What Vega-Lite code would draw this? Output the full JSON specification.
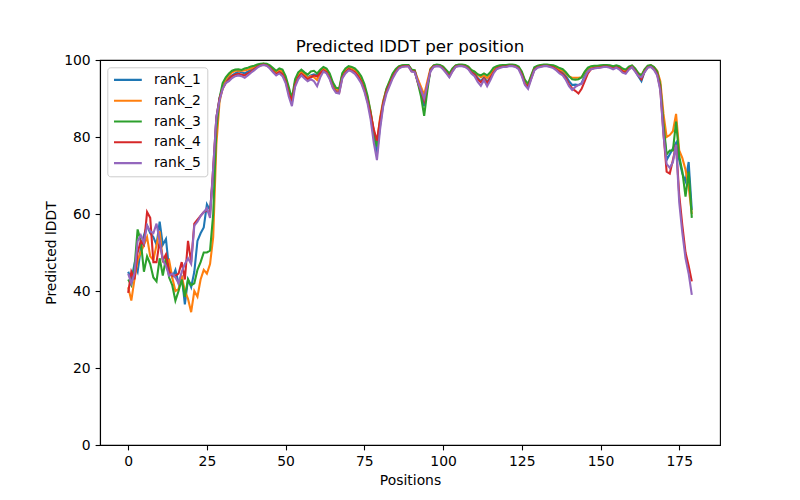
{
"$schema": "https://vega.github.io/schema/vega-lite/v6.json",
"width": 620, "height": 385,
"autosize": {"type": "none"},
"padding": {"left": 100, "top": 60, "right": 80, "bottom": 55},
"background": "white",
"title": {"text": "Predicted lDDT per position", "font": "DejaVu Sans", "fontSize": 16.7, "fontWeight": "normal", "color": "black", "offset": -3},
"config": {
  "view": {"stroke": "black", "strokeWidth": 1.1},
  "axis": {"labelFont": "DejaVu Sans", "labelFontSize": 13.9, "labelColor": "black", "tickColor": "black", "tickSize": 4.9, "tickWidth": 1.1, "domainColor": "black", "domainWidth": 1.1, "titleFont": "DejaVu Sans", "titleFontSize": 13.9, "titleFontWeight": "normal", "titleColor": "black", "grid": false, "labelPadding": 4.9, "titlePadding": 5},
  "legend": {"labelFont": "DejaVu Sans", "labelFontSize": 13.9, "labelColor": "black"}
},
"data": {"values": [
{"pos":0,"rank_1":45,"rank_2":41,"rank_3":43,"rank_4":39.5,"rank_5":44.5},
{"pos":1,"rank_1":43,"rank_2":37.5,"rank_3":41.5,"rank_4":45,"rank_5":42},
{"pos":2,"rank_1":47,"rank_2":43,"rank_3":46,"rank_4":43,"rank_5":44.5},
{"pos":3,"rank_1":45,"rank_2":48,"rank_3":56,"rank_4":50,"rank_5":53},
{"pos":4,"rank_1":51,"rank_2":50,"rank_3":53,"rank_4":53,"rank_5":54.5},
{"pos":5,"rank_1":54.5,"rank_2":52,"rank_3":45,"rank_4":52,"rank_5":52.5},
{"pos":6,"rank_1":57,"rank_2":54,"rank_3":49,"rank_4":60.5,"rank_5":57},
{"pos":7,"rank_1":55,"rank_2":49,"rank_3":47,"rank_4":59,"rank_5":55.5},
{"pos":8,"rank_1":54,"rank_2":48,"rank_3":43.5,"rank_4":47.5,"rank_5":55},
{"pos":9,"rank_1":52,"rank_2":52,"rank_3":42.5,"rank_4":47.5,"rank_5":57.5},
{"pos":10,"rank_1":58,"rank_2":55.5,"rank_3":48.5,"rank_4":53,"rank_5":53},
{"pos":11,"rank_1":52,"rank_2":48,"rank_3":44,"rank_4":48,"rank_5":48},
{"pos":12,"rank_1":53.5,"rank_2":47,"rank_3":48.5,"rank_4":49.5,"rank_5":46.5},
{"pos":13,"rank_1":45.5,"rank_2":48,"rank_3":43.5,"rank_4":45,"rank_5":44},
{"pos":14,"rank_1":43.5,"rank_2":43.5,"rank_3":41.5,"rank_4":44,"rank_5":44.5},
{"pos":15,"rank_1":45.5,"rank_2":40,"rank_3":37.5,"rank_4":44,"rank_5":43.5},
{"pos":16,"rank_1":42,"rank_2":40.5,"rank_3":40,"rank_4":44.5,"rank_5":42},
{"pos":17,"rank_1":44,"rank_2":44,"rank_3":43,"rank_4":47.5,"rank_5":45},
{"pos":18,"rank_1":36.5,"rank_2":40,"rank_3":38.5,"rank_4":43,"rank_5":47},
{"pos":19,"rank_1":43,"rank_2":38,"rank_3":43,"rank_4":53,"rank_5":48.5},
{"pos":20,"rank_1":41,"rank_2":34.5,"rank_3":41.5,"rank_4":47.5,"rank_5":47},
{"pos":21,"rank_1":45,"rank_2":40,"rank_3":42,"rank_4":57.5,"rank_5":57},
{"pos":22,"rank_1":53,"rank_2":38.5,"rank_3":45.5,"rank_4":58.5,"rank_5":58},
{"pos":23,"rank_1":55,"rank_2":43,"rank_3":47.5,"rank_4":59.5,"rank_5":59.5},
{"pos":24,"rank_1":56.5,"rank_2":45.5,"rank_3":50,"rank_4":60.5,"rank_5":60.5},
{"pos":25,"rank_1":62.5,"rank_2":44.5,"rank_3":50,"rank_4":61,"rank_5":61.5},
{"pos":26,"rank_1":61,"rank_2":47,"rank_3":50.5,"rank_4":60,"rank_5":59},
{"pos":27,"rank_1":70,"rank_2":54,"rank_3":60,"rank_4":72,"rank_5":72},
{"pos":28,"rank_1":85,"rank_2":78,"rank_3":82,"rank_4":85,"rank_5":85},
{"pos":29,"rank_1":90,"rank_2":89,"rank_3":90,"rank_4":90,"rank_5":89.5},
{"pos":30,"rank_1":93,"rank_2":93,"rank_3":94,"rank_4":92.5,"rank_5":92.5},
{"pos":31,"rank_1":94.5,"rank_2":95,"rank_3":95.5,"rank_4":94,"rank_5":94},
{"pos":32,"rank_1":95.5,"rank_2":96,"rank_3":96.5,"rank_4":95,"rank_5":94.5},
{"pos":33,"rank_1":96,"rank_2":96.8,"rank_3":97.2,"rank_4":95.8,"rank_5":95.3},
{"pos":34,"rank_1":96.5,"rank_2":97.2,"rank_3":97.5,"rank_4":96.2,"rank_5":95.8},
{"pos":35,"rank_1":97,"rank_2":97.3,"rank_3":97.6,"rank_4":96.4,"rank_5":96},
{"pos":36,"rank_1":96.8,"rank_2":97.2,"rank_3":97.4,"rank_4":96.2,"rank_5":95.8},
{"pos":37,"rank_1":96.5,"rank_2":97.3,"rank_3":97.8,"rank_4":96,"rank_5":95.4},
{"pos":38,"rank_1":97,"rank_2":97.5,"rank_3":98,"rank_4":96.5,"rank_5":96},
{"pos":39,"rank_1":97.5,"rank_2":97.8,"rank_3":98.3,"rank_4":97,"rank_5":96.7},
{"pos":40,"rank_1":98,"rank_2":98.2,"rank_3":98.5,"rank_4":97.6,"rank_5":97.3},
{"pos":41,"rank_1":98.5,"rank_2":98.6,"rank_3":98.8,"rank_4":98.2,"rank_5":98},
{"pos":42,"rank_1":98.8,"rank_2":98.9,"rank_3":99,"rank_4":98.6,"rank_5":98.5},
{"pos":43,"rank_1":99,"rank_2":99,"rank_3":99.1,"rank_4":98.8,"rank_5":98.7},
{"pos":44,"rank_1":98.8,"rank_2":98.8,"rank_3":99,"rank_4":98.6,"rank_5":98.5},
{"pos":45,"rank_1":98.3,"rank_2":98.4,"rank_3":98.6,"rank_4":98,"rank_5":97.8},
{"pos":46,"rank_1":97.5,"rank_2":97.6,"rank_3":97.9,"rank_4":97.1,"rank_5":96.8},
{"pos":47,"rank_1":96.7,"rank_2":96.8,"rank_3":97.2,"rank_4":96.3,"rank_5":96},
{"pos":48,"rank_1":97.2,"rank_2":97.4,"rank_3":97.8,"rank_4":96.8,"rank_5":96.5},
{"pos":49,"rank_1":96.8,"rank_2":97,"rank_3":97.5,"rank_4":96.3,"rank_5":95.8},
{"pos":50,"rank_1":95,"rank_2":95.3,"rank_3":95.8,"rank_4":94.5,"rank_5":94},
{"pos":51,"rank_1":92,"rank_2":92.3,"rank_3":93,"rank_4":91.3,"rank_5":90.5},
{"pos":52,"rank_1":89,"rank_2":89.5,"rank_3":90,"rank_4":89.5,"rank_5":88},
{"pos":53,"rank_1":94,"rank_2":94.2,"rank_3":95,"rank_4":93.5,"rank_5":93},
{"pos":54,"rank_1":96,"rank_2":96.3,"rank_3":96.8,"rank_4":95.5,"rank_5":95},
{"pos":55,"rank_1":97,"rank_2":97,"rank_3":97.5,"rank_4":96.4,"rank_5":96},
{"pos":56,"rank_1":96.3,"rank_2":96.2,"rank_3":96.8,"rank_4":95.7,"rank_5":95.2},
{"pos":57,"rank_1":95.5,"rank_2":95.3,"rank_3":96.2,"rank_4":95,"rank_5":94.5},
{"pos":58,"rank_1":96,"rank_2":95.8,"rank_3":97,"rank_4":95.5,"rank_5":95},
{"pos":59,"rank_1":96.3,"rank_2":95.5,"rank_3":97.2,"rank_4":96,"rank_5":94.5},
{"pos":60,"rank_1":96,"rank_2":94.8,"rank_3":96.5,"rank_4":95.7,"rank_5":93.2},
{"pos":61,"rank_1":97,"rank_2":96.5,"rank_3":97.5,"rank_4":96.6,"rank_5":95.5},
{"pos":62,"rank_1":97.8,"rank_2":97.7,"rank_3":98.2,"rank_4":97.3,"rank_5":97},
{"pos":63,"rank_1":97.3,"rank_2":97.3,"rank_3":97.8,"rank_4":96.8,"rank_5":96.5},
{"pos":64,"rank_1":95.8,"rank_2":96,"rank_3":96.5,"rank_4":95.3,"rank_5":95},
{"pos":65,"rank_1":93.5,"rank_2":93.8,"rank_3":94.2,"rank_4":93,"rank_5":92.7},
{"pos":66,"rank_1":92.2,"rank_2":92.4,"rank_3":92.8,"rank_4":91.7,"rank_5":91.5},
{"pos":67,"rank_1":92,"rank_2":92.2,"rank_3":92.6,"rank_4":91.5,"rank_5":91.3},
{"pos":68,"rank_1":96,"rank_2":96.2,"rank_3":96.6,"rank_4":95.5,"rank_5":95.2},
{"pos":69,"rank_1":97.2,"rank_2":97.4,"rank_3":97.8,"rank_4":96.8,"rank_5":96.5},
{"pos":70,"rank_1":98,"rank_2":98.1,"rank_3":98.4,"rank_4":97.6,"rank_5":97.3},
{"pos":71,"rank_1":97.8,"rank_2":97.9,"rank_3":98.2,"rank_4":97.3,"rank_5":97},
{"pos":72,"rank_1":97.3,"rank_2":97.4,"rank_3":97.8,"rank_4":96.8,"rank_5":96.4},
{"pos":73,"rank_1":96.3,"rank_2":96.5,"rank_3":97,"rank_4":95.8,"rank_5":95.3},
{"pos":74,"rank_1":95,"rank_2":95.2,"rank_3":95.8,"rank_4":94.4,"rank_5":94},
{"pos":75,"rank_1":93,"rank_2":93.2,"rank_3":93.8,"rank_4":92.3,"rank_5":91.8},
{"pos":76,"rank_1":90,"rank_2":90.2,"rank_3":90.8,"rank_4":89.3,"rank_5":88.8},
{"pos":77,"rank_1":85.5,"rank_2":86.5,"rank_3":86.5,"rank_4":86,"rank_5":84.5},
{"pos":78,"rank_1":80,"rank_2":81.5,"rank_3":81,"rank_4":82,"rank_5":78.5},
{"pos":79,"rank_1":75.5,"rank_2":78.5,"rank_3":77.5,"rank_4":79,"rank_5":74},
{"pos":80,"rank_1":83,"rank_2":85,"rank_3":84,"rank_4":84.5,"rank_5":82},
{"pos":81,"rank_1":88.5,"rank_2":89.5,"rank_3":89,"rank_4":88.8,"rank_5":88},
{"pos":82,"rank_1":92,"rank_2":92.3,"rank_3":92.5,"rank_4":91.8,"rank_5":91.2},
{"pos":83,"rank_1":94,"rank_2":94.2,"rank_3":94.5,"rank_4":93.7,"rank_5":93.2},
{"pos":84,"rank_1":96,"rank_2":96.2,"rank_3":96.5,"rank_4":95.6,"rank_5":95.2},
{"pos":85,"rank_1":97.3,"rank_2":97.4,"rank_3":97.7,"rank_4":97,"rank_5":96.7},
{"pos":86,"rank_1":98.2,"rank_2":98.2,"rank_3":98.4,"rank_4":98,"rank_5":97.8},
{"pos":87,"rank_1":98.5,"rank_2":98.5,"rank_3":98.6,"rank_4":98.3,"rank_5":98.2},
{"pos":88,"rank_1":98.6,"rank_2":98.6,"rank_3":98.7,"rank_4":98.4,"rank_5":98.3},
{"pos":89,"rank_1":98.6,"rank_2":98.6,"rank_3":98.7,"rank_4":98.4,"rank_5":98.3},
{"pos":90,"rank_1":97.3,"rank_2":97.4,"rank_3":97.5,"rank_4":97.1,"rank_5":97},
{"pos":91,"rank_1":97.2,"rank_2":97.3,"rank_3":97.3,"rank_4":97,"rank_5":96.8},
{"pos":92,"rank_1":94.3,"rank_2":95,"rank_3":94,"rank_4":94.2,"rank_5":94.3},
{"pos":93,"rank_1":91.5,"rank_2":93,"rank_3":90.5,"rank_4":92,"rank_5":92.2},
{"pos":94,"rank_1":88,"rank_2":91,"rank_3":85.5,"rank_4":89.5,"rank_5":90},
{"pos":95,"rank_1":93,"rank_2":94.5,"rank_3":92,"rank_4":93.5,"rank_5":93.5},
{"pos":96,"rank_1":97.5,"rank_2":97.8,"rank_3":97.5,"rank_4":97.3,"rank_5":97},
{"pos":97,"rank_1":98.5,"rank_2":98.5,"rank_3":98.6,"rank_4":98.3,"rank_5":98.2},
{"pos":98,"rank_1":98.7,"rank_2":98.7,"rank_3":98.8,"rank_4":98.5,"rank_5":98.4},
{"pos":99,"rank_1":98.6,"rank_2":98.6,"rank_3":98.7,"rank_4":98.4,"rank_5":98.3},
{"pos":100,"rank_1":98.1,"rank_2":98.2,"rank_3":98.3,"rank_4":97.8,"rank_5":97.6},
{"pos":101,"rank_1":97.1,"rank_2":97.2,"rank_3":97.4,"rank_4":96.8,"rank_5":96.6},
{"pos":102,"rank_1":96.1,"rank_2":96.2,"rank_3":96.5,"rank_4":95.7,"rank_5":95.5},
{"pos":103,"rank_1":97.5,"rank_2":97.6,"rank_3":97.8,"rank_4":97.2,"rank_5":97},
{"pos":104,"rank_1":98.5,"rank_2":98.5,"rank_3":98.6,"rank_4":98.3,"rank_5":98.2},
{"pos":105,"rank_1":98.7,"rank_2":98.7,"rank_3":98.8,"rank_4":98.5,"rank_5":98.4},
{"pos":106,"rank_1":98.7,"rank_2":98.7,"rank_3":98.8,"rank_4":98.5,"rank_5":98.4},
{"pos":107,"rank_1":98.5,"rank_2":98.6,"rank_3":98.7,"rank_4":98.3,"rank_5":98.2},
{"pos":108,"rank_1":98,"rank_2":98.2,"rank_3":98.3,"rank_4":97.8,"rank_5":97.6},
{"pos":109,"rank_1":97,"rank_2":97.3,"rank_3":97.4,"rank_4":96.7,"rank_5":96.5},
{"pos":110,"rank_1":96.5,"rank_2":97,"rank_3":97,"rank_4":96.2,"rank_5":95.8},
{"pos":111,"rank_1":95.3,"rank_2":96.2,"rank_3":96.3,"rank_4":95,"rank_5":94.3},
{"pos":112,"rank_1":94.5,"rank_2":95.5,"rank_3":96,"rank_4":94.2,"rank_5":93.3},
{"pos":113,"rank_1":95.5,"rank_2":96,"rank_3":96.5,"rank_4":95.2,"rank_5":94.8},
{"pos":114,"rank_1":94.3,"rank_2":95.3,"rank_3":96,"rank_4":94,"rank_5":93.2},
{"pos":115,"rank_1":95.5,"rank_2":96.2,"rank_3":96.8,"rank_4":95.3,"rank_5":94.7},
{"pos":116,"rank_1":97,"rank_2":97.5,"rank_3":98,"rank_4":96.8,"rank_5":96.5},
{"pos":117,"rank_1":98,"rank_2":98.2,"rank_3":98.4,"rank_4":97.8,"rank_5":97.6},
{"pos":118,"rank_1":98.3,"rank_2":98.4,"rank_3":98.6,"rank_4":98.1,"rank_5":97.9},
{"pos":119,"rank_1":98.5,"rank_2":98.5,"rank_3":98.7,"rank_4":98.3,"rank_5":98.2},
{"pos":120,"rank_1":98.5,"rank_2":98.5,"rank_3":98.7,"rank_4":98.3,"rank_5":98.2},
{"pos":121,"rank_1":98.7,"rank_2":98.7,"rank_3":98.8,"rank_4":98.5,"rank_5":98.4},
{"pos":122,"rank_1":98.7,"rank_2":98.7,"rank_3":98.8,"rank_4":98.5,"rank_5":98.4},
{"pos":123,"rank_1":98.5,"rank_2":98.5,"rank_3":98.7,"rank_4":98.3,"rank_5":98.2},
{"pos":124,"rank_1":98,"rank_2":98.1,"rank_3":98.3,"rank_4":97.8,"rank_5":97.6},
{"pos":125,"rank_1":96.5,"rank_2":96.7,"rank_3":97,"rank_4":96.2,"rank_5":95.8},
{"pos":126,"rank_1":94.2,"rank_2":94.5,"rank_3":94.8,"rank_4":93.8,"rank_5":93.5},
{"pos":127,"rank_1":93.3,"rank_2":93.5,"rank_3":93.8,"rank_4":93,"rank_5":92.5},
{"pos":128,"rank_1":95.5,"rank_2":95.8,"rank_3":96,"rank_4":95.2,"rank_5":95},
{"pos":129,"rank_1":97.8,"rank_2":97.9,"rank_3":98.1,"rank_4":97.5,"rank_5":97.3},
{"pos":130,"rank_1":98.3,"rank_2":98.4,"rank_3":98.5,"rank_4":98.1,"rank_5":98},
{"pos":131,"rank_1":98.5,"rank_2":98.6,"rank_3":98.7,"rank_4":98.3,"rank_5":98.2},
{"pos":132,"rank_1":98.7,"rank_2":98.7,"rank_3":98.8,"rank_4":98.5,"rank_5":98.4},
{"pos":133,"rank_1":98.7,"rank_2":98.7,"rank_3":98.8,"rank_4":98.5,"rank_5":98.4},
{"pos":134,"rank_1":98.5,"rank_2":98.6,"rank_3":98.7,"rank_4":98.3,"rank_5":98.2},
{"pos":135,"rank_1":98.3,"rank_2":98.4,"rank_3":98.6,"rank_4":98.1,"rank_5":97.9},
{"pos":136,"rank_1":97.8,"rank_2":98,"rank_3":98.3,"rank_4":97.5,"rank_5":97.3},
{"pos":137,"rank_1":97.2,"rank_2":97.5,"rank_3":97.9,"rank_4":96.9,"rank_5":96.5},
{"pos":138,"rank_1":96.8,"rank_2":97.2,"rank_3":97.6,"rank_4":96.3,"rank_5":96},
{"pos":139,"rank_1":95.8,"rank_2":96.5,"rank_3":96.8,"rank_4":95.3,"rank_5":94.8},
{"pos":140,"rank_1":94.5,"rank_2":95.7,"rank_3":95.8,"rank_4":93.7,"rank_5":93.2},
{"pos":141,"rank_1":93.5,"rank_2":95.4,"rank_3":95,"rank_4":92.6,"rank_5":92.2},
{"pos":142,"rank_1":93.6,"rank_2":95.4,"rank_3":94.9,"rank_4":92,"rank_5":93},
{"pos":143,"rank_1":93.5,"rank_2":95.4,"rank_3":95,"rank_4":91.3,"rank_5":93.5},
{"pos":144,"rank_1":94,"rank_2":95.5,"rank_3":95.5,"rank_4":92.5,"rank_5":93.8},
{"pos":145,"rank_1":96,"rank_2":96.8,"rank_3":97,"rank_4":94.5,"rank_5":95.5},
{"pos":146,"rank_1":97.5,"rank_2":97.8,"rank_3":98,"rank_4":96.5,"rank_5":97},
{"pos":147,"rank_1":98,"rank_2":98.2,"rank_3":98.4,"rank_4":97.6,"rank_5":97.6},
{"pos":148,"rank_1":98.2,"rank_2":98.3,"rank_3":98.5,"rank_4":97.9,"rank_5":97.8},
{"pos":149,"rank_1":98.3,"rank_2":98.3,"rank_3":98.5,"rank_4":98,"rank_5":97.9},
{"pos":150,"rank_1":98.3,"rank_2":98.4,"rank_3":98.6,"rank_4":98.1,"rank_5":98},
{"pos":151,"rank_1":98.5,"rank_2":98.5,"rank_3":98.7,"rank_4":98.3,"rank_5":98.2},
{"pos":152,"rank_1":98.5,"rank_2":98.5,"rank_3":98.7,"rank_4":98.3,"rank_5":98.2},
{"pos":153,"rank_1":98.3,"rank_2":98.4,"rank_3":98.6,"rank_4":98.1,"rank_5":98},
{"pos":154,"rank_1":98,"rank_2":98.2,"rank_3":98.4,"rank_4":97.8,"rank_5":97.6},
{"pos":155,"rank_1":98.3,"rank_2":98.4,"rank_3":98.6,"rank_4":98.1,"rank_5":98},
{"pos":156,"rank_1":98,"rank_2":98.2,"rank_3":98.4,"rank_4":97.8,"rank_5":97.5},
{"pos":157,"rank_1":97.3,"rank_2":97.5,"rank_3":97.8,"rank_4":97,"rank_5":96.7},
{"pos":158,"rank_1":97,"rank_2":97.2,"rank_3":97.5,"rank_4":96.7,"rank_5":96.4},
{"pos":159,"rank_1":98,"rank_2":98.1,"rank_3":98.3,"rank_4":97.7,"rank_5":97.5},
{"pos":160,"rank_1":98.4,"rank_2":98.5,"rank_3":98.6,"rank_4":98.2,"rank_5":98.1},
{"pos":161,"rank_1":97.3,"rank_2":97.6,"rank_3":97.8,"rank_4":97.2,"rank_5":97},
{"pos":162,"rank_1":95.8,"rank_2":96.5,"rank_3":96.6,"rank_4":96,"rank_5":95.8},
{"pos":163,"rank_1":94.5,"rank_2":96,"rank_3":96,"rank_4":95,"rank_5":95.5},
{"pos":164,"rank_1":97,"rank_2":97.5,"rank_3":97.6,"rank_4":97,"rank_5":96.8},
{"pos":165,"rank_1":98.3,"rank_2":98.4,"rank_3":98.5,"rank_4":98.1,"rank_5":98},
{"pos":166,"rank_1":98.5,"rank_2":98.6,"rank_3":98.7,"rank_4":98.3,"rank_5":98.2},
{"pos":167,"rank_1":97.8,"rank_2":98.1,"rank_3":98.2,"rank_4":97.6,"rank_5":97.4},
{"pos":168,"rank_1":96.5,"rank_2":97.2,"rank_3":97,"rank_4":96.3,"rank_5":96},
{"pos":169,"rank_1":93,"rank_2":94.5,"rank_3":93.5,"rank_4":92.5,"rank_5":92},
{"pos":170,"rank_1":83,"rank_2":86,"rank_3":83.5,"rank_4":81,"rank_5":80.5},
{"pos":171,"rank_1":74,"rank_2":80,"rank_3":75.5,"rank_4":71,"rank_5":73},
{"pos":172,"rank_1":75.5,"rank_2":80.5,"rank_3":76.5,"rank_4":70.5,"rank_5":72},
{"pos":173,"rank_1":77,"rank_2":81.5,"rank_3":76.5,"rank_4":74,"rank_5":73.5},
{"pos":174,"rank_1":78.5,"rank_2":86,"rank_3":84,"rank_4":78,"rank_5":78},
{"pos":175,"rank_1":74,"rank_2":76.5,"rank_3":75,"rank_4":65,"rank_5":63},
{"pos":176,"rank_1":70.5,"rank_2":74.5,"rank_3":71,"rank_4":57,"rank_5":55},
{"pos":177,"rank_1":68.5,"rank_2":71.5,"rank_3":64.5,"rank_4":50,"rank_5":48.5},
{"pos":178,"rank_1":73.5,"rank_2":67,"rank_3":71,"rank_4":46.5,"rank_5":44.5},
{"pos":179,"rank_1":61,"rank_2":60,"rank_3":59,"rank_4":42.5,"rank_5":39}
]},
"transform": [{"fold": ["rank_1","rank_2","rank_3","rank_4","rank_5"], "as": ["rank","value"]}],
"mark": {"type": "line", "strokeWidth": 2.08},
"encoding": {
  "x": {"field": "pos", "type": "quantitative", "title": "Positions",
        "scale": {"domain": [-8.95, 187.95], "nice": false, "zero": false},
        "axis": {"values": [0,25,50,75,100,125,150,175], "labelFlush": false}},
  "y": {"field": "value", "type": "quantitative", "title": "Predicted lDDT",
        "scale": {"domain": [0, 100], "nice": false},
        "axis": {"values": [0,20,40,60,80,100]}},
  "color": {"field": "rank", "type": "nominal",
        "scale": {"domain": ["rank_1","rank_2","rank_3","rank_4","rank_5"], "range": ["#1f77b4","#ff7f0e","#2ca02c","#d62728","#9467bd"]},
        "legend": {"title": null, "orient": "none", "legendX": 7.3, "legendY": 7.3, "symbolType": "stroke", "symbolSize": 773, "symbolStrokeWidth": 2.08, "labelOffset": 11, "padding": 5.6, "strokeColor": "#cccccc", "fillColor": "white", "cornerRadius": 3, "clipHeight": 14, "rowPadding": 6.8}}
}
}
